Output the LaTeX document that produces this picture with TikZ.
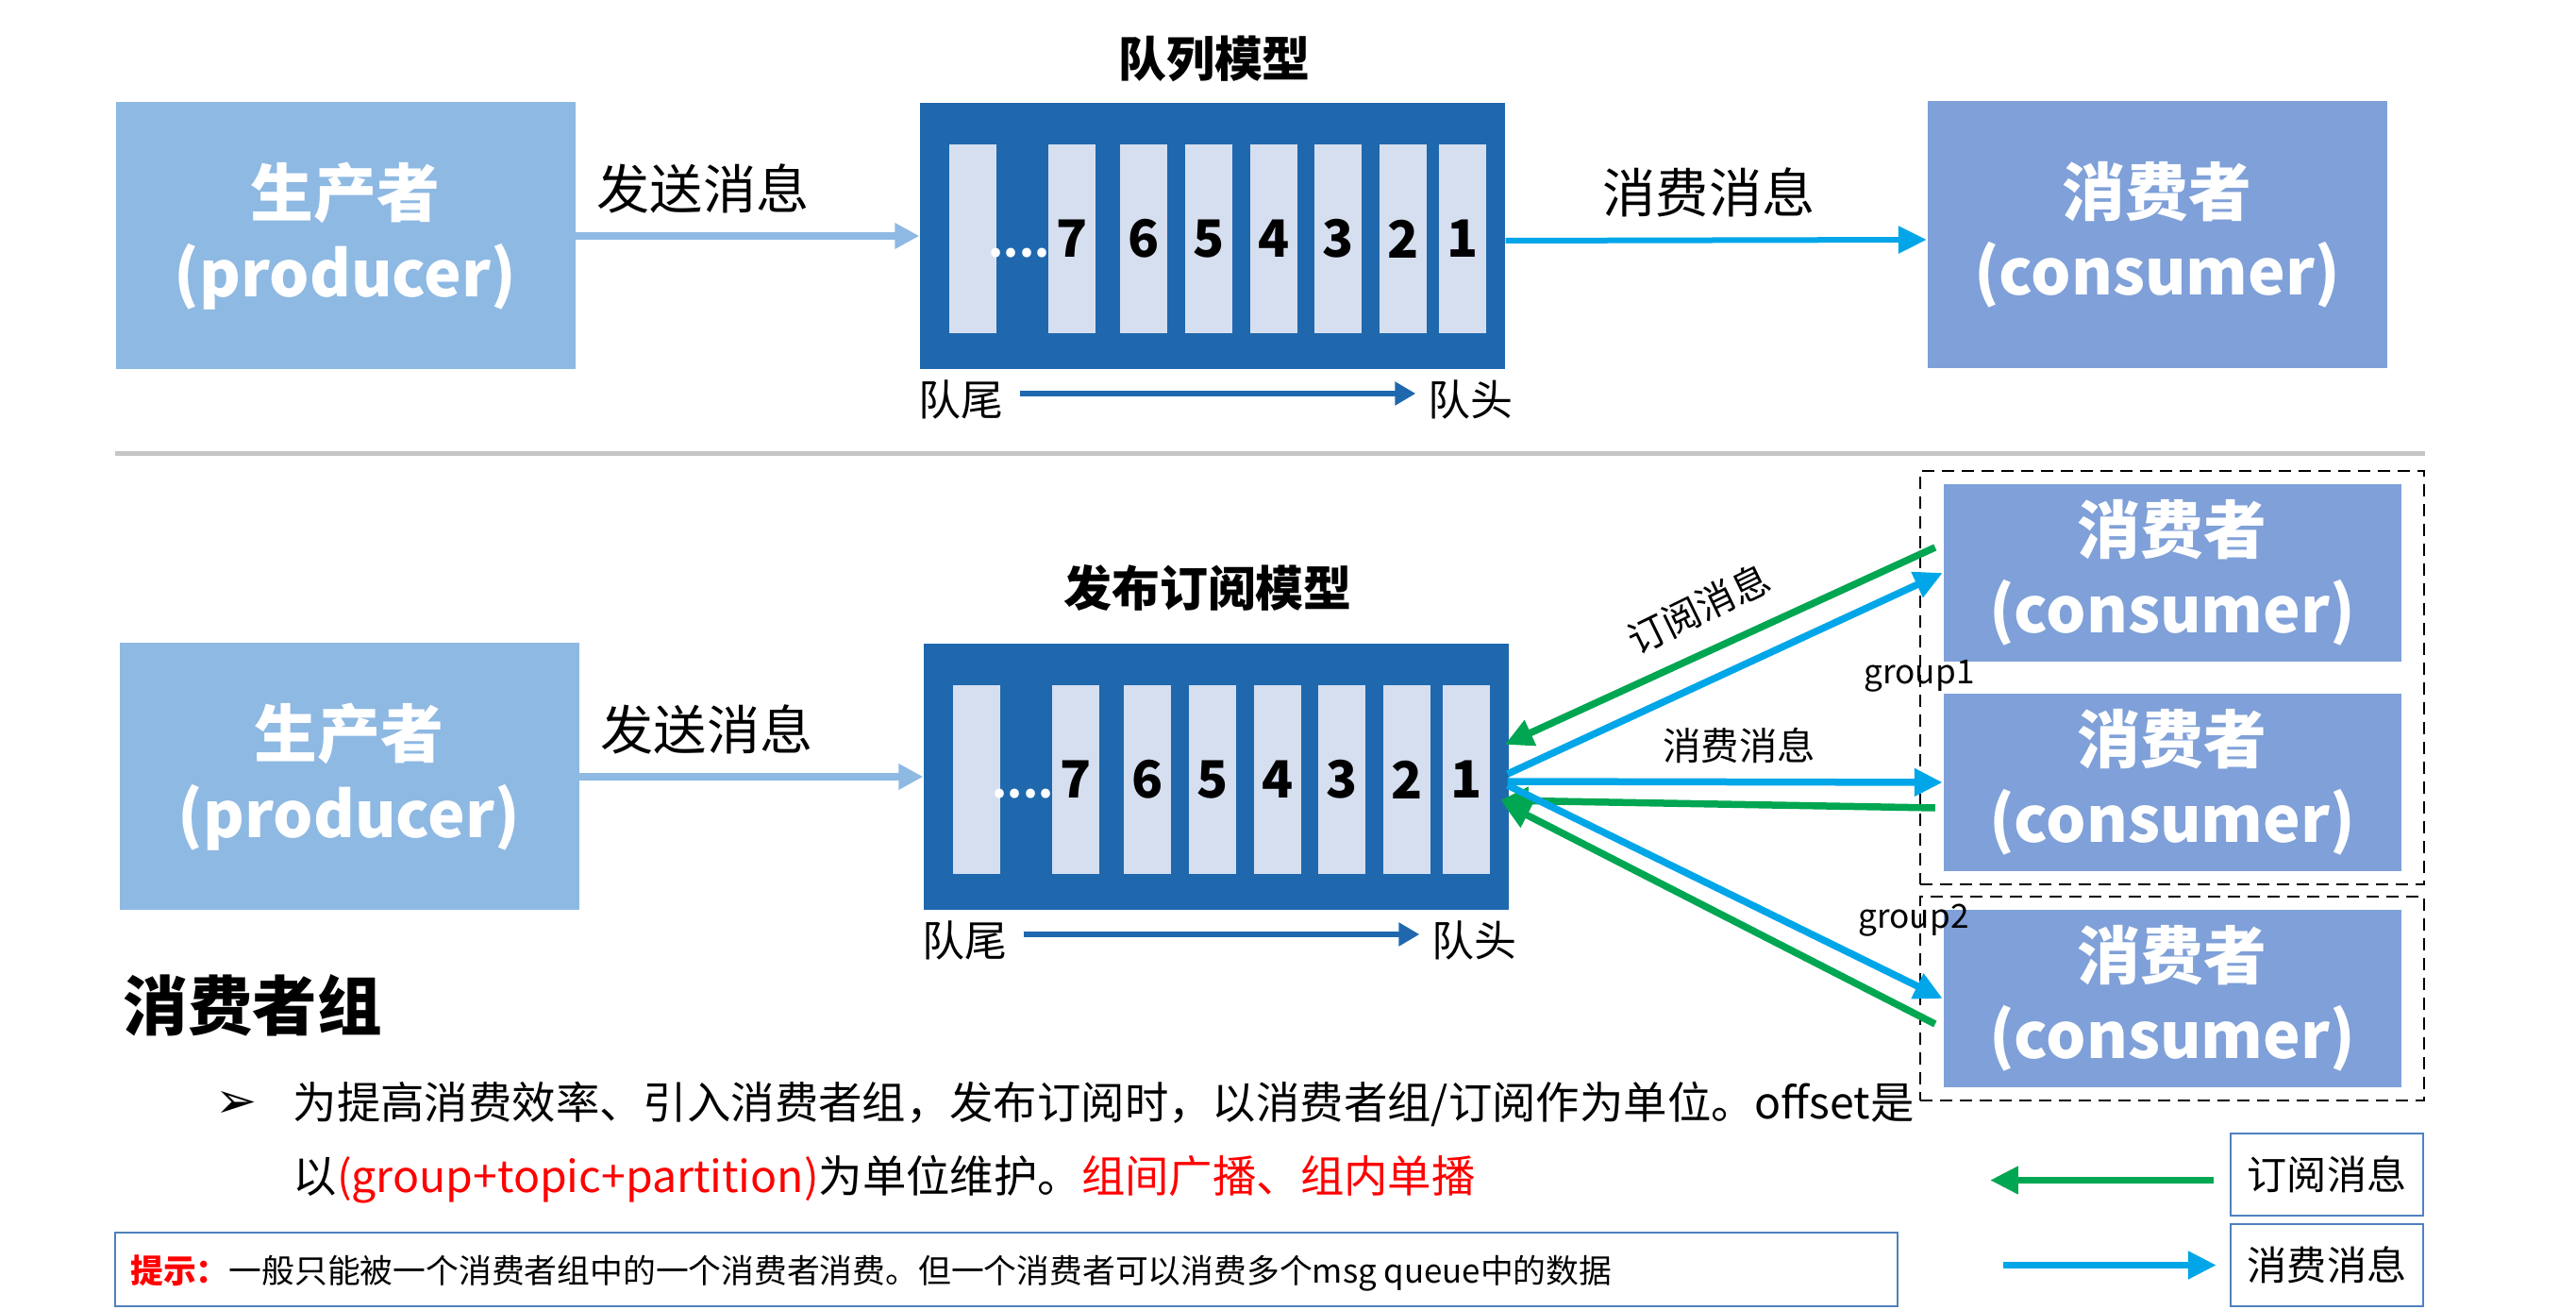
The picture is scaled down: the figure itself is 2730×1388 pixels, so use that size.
\documentclass[tikz,border=0pt]{standalone}
\usepackage{fontspec}
\setmainfont{Noto Sans CJK SC}
\newfontfamily\symfont{DejaVu Sans}
\usetikzlibrary{arrows.meta, positioning, fit, calc}
\definecolor{ProdBlue}{RGB}{142,185,227}
\definecolor{ConsBlue}{RGB}{127,160,216}
\definecolor{QueueBlue}{RGB}{31,104,174}
\definecolor{SlotGray}{RGB}{214,223,240}
\definecolor{SubGreen}{RGB}{0,166,81}
\definecolor{MsgCyan}{RGB}{0,166,232}
\definecolor{FrameBlue}{RGB}{79,129,189}

\begin{document}
\begin{tikzpicture}[x=0.1mm, y=-0.1mm,
	box/.style={rectangle, minimum width=48.7mm, minimum height=28.3mm, inner sep=0pt, align=center, text=white, font=\fontsize{19pt}{24pt}\selectfont\bfseries},
	prod/.style={box, fill=ProdBlue},
	cons/.style={box, fill=ConsBlue},
	queue/.style={rectangle, fill=QueueBlue, minimum width=62mm, minimum height=28.2mm, inner sep=0pt},
	slot/.style={rectangle, fill=SlotGray, minimum width=4.95mm, minimum height=20mm, inner sep=0pt, font=\fontsize{15.5pt}{18pt}\selectfont\bfseries},
	lbl/.style={font=\fontsize{16pt}{19pt}\selectfont, inner sep=0pt},
	qlbl/.style={font=\fontsize{12.8pt}{15pt}\selectfont, inner sep=0pt},
	small/.style={font=\fontsize{11.5pt}{14pt}\selectfont, inner sep=0pt},
	title/.style={font=\fontsize{14.5pt}{17pt}\selectfont\bfseries, inner sep=0pt},
	note/.style={font=\fontsize{13.2pt}{15pt}\selectfont, inner sep=0pt, anchor=west},
	sendarr/.style={-{Triangle[length=2.6mm, width=2.6mm]}, ProdBlue, line width=0.8mm},
	tailarr/.style={-{Triangle[length=2.2mm, width=2.4mm]}, QueueBlue, line width=0.6mm},
	subarr/.style={-{Triangle[length=3mm, width=2.8mm]}, SubGreen, line width=0.75mm},
	msgarr/.style={-{Triangle[length=3mm, width=2.8mm]}, MsgCyan, line width=0.75mm},
	legend/.style={draw=FrameBlue, line width=0.6pt, minimum width=20.4mm, minimum height=8.7mm, inner sep=0pt, font=\fontsize{12pt}{14pt}\selectfont},
	group/.style={draw, dash pattern=on 1.3mm off 0.8mm, line width=0.5pt, inner xsep=2.4mm, inner ysep=1.3mm}]
\useasboundingbox (0,0) rectangle (2730,1388);
% titles
\node[title] (T1) at (1287,62) {队列模型};
\node[title] (T2) at (1280,623) {发布订阅模型};
% producer + queue, both rows
\foreach \r/\dx/\dy in {t/0/0,b/4/573}{
	\node[prod] (P\r) at (366+\dx,250+\dy) {生产者\\(producer)};
	\node[queue] (Q\r) at (1285+\dx,250+\dy) {};
	\node[slot] (S\r0) at (1031+\dx,253+\dy) {};
	\foreach \i/\x in {7/1136,6/1212,5/1281,4/1350,3/1418,2/1487,1/1550}
		\node[slot] (S\r\i) at (\x+\dx,253+\dy) {\i};
	\node[text=white, font=\fontsize{13pt}{13pt}\selectfont\bfseries, inner sep=0pt, anchor=base] (D\r) at (1080+\dx,273+\dy) {....};
	\node[qlbl] (tail\r) at (1018+\dx,423+\dy) {队尾};
	\node[qlbl] (head\r) at (1558+\dx,423+\dy) {队头};
	\draw[tailarr] ([xshift=1.7mm,yshift=0.6mm]tail\r.east) -- ([xshift=-1.2mm,yshift=0.6mm]head\r.west);
	\draw[sendarr] (P\r.east) -- (Q\r.west);
	\node[lbl] (send\r) at (745+\dx,200+\dy) {发送消息};
}
% queue model consumer
\node[cons] (C0) at (2286,249) {消费者\\(consumer)};
\draw[msgarr, line width=0.6mm] ([yshift=-0.5mm]Qt.east) -- ([yshift=-0.5mm]C0.west);
\node[lbl] (consume) at (1811,204) {消费消息};
\draw[gray!45, line width=0.5mm] (122,481) -- (2570,481);
% consumer groups
\node[cons, minimum width=48.5mm, minimum height=18.8mm] (C1) at (2302,607) {消费者\\(consumer)};
\node[cons, minimum width=48.5mm, minimum height=18.8mm] (C2) at (2302,829) {消费者\\(consumer)};
\node[cons, minimum width=48.5mm, minimum height=18.8mm] (C3) at (2302,1058) {消费者\\(consumer)};
\node[group, fit=(C1)(C2)] (G1) {};
\node[group, fit=(C3)] (G2) {};
\node[font=\fontsize{10pt}{12pt}\selectfont, inner sep=0pt] (g1) at (2034,716) {group1};
\node[font=\fontsize{10pt}{12pt}\selectfont, inner sep=0pt] (g2) at (2028,975) {group2};
% subscribe / consume
\draw[subarr] ([shift={(-8,-27)}]C1.west) -- ([shift={(-5,-34)}]Qb.east);
\draw[msgarr] ([shift={(-2,-3)}]Qb.east) -- (C1.west);
\draw[msgarr] ([shift={(-2,5)}]Qb.east) -- (C2.west);
\draw[subarr] ([shift={(-8,27)}]C2.west) -- ([shift={(-10,25)}]Qb.east);
\draw[msgarr] ([shift={(-2,9)}]Qb.east) -- (C3.west);
\draw[subarr] ([shift={(-8,27)}]C3.west) -- ([shift={(-8,27)}]Qb.east);
\node[small, rotate=26] (sublbl) at (1800,645) {订阅消息};
\node[small] (msglbl) at (1843,790) {消费消息};
% notes
\node[font=\fontsize{19.5pt}{22pt}\selectfont\bfseries, inner sep=0pt, anchor=west] (grp) at (130,1065) {消费者组};
\node[font=\symfont\fontsize{15pt}{16pt}\selectfont, inner sep=0pt] (bul) at (251,1170) {➢};
\node[note] (line1) at (310,1170) {为提高消费效率、引入消费者组，发布订阅时，以消费者组/订阅作为单位。offset是};
\node[note] (line2) at (310,1250) {以\textcolor{red}{(group+topic+partition)}为单位维护。\textcolor{red}{组间广播、组内单播}};
\node[draw=FrameBlue, line width=0.8pt, minimum width=188.9mm, minimum height=7.8mm, inner sep=0pt] (hintbox) at (1066.5,1345) {};
\node[font=\fontsize{9.9pt}{12pt}\selectfont, inner sep=0pt, anchor=west] (hint) at ([xshift=1.7mm,yshift=-0.4mm]hintbox.west) {\textcolor{red}{\bfseries 提示：}一般只能被一个消费者组中的一个消费者消费。但一个消费者可以消费多个msg queue中的数据};
% legend
\node[legend] (L1) at (2466,1244.5) {订阅消息};
\node[legend] (L2) at (2466,1340.5) {消费消息};
\draw[subarr] ([shift={(-17,6)}]L1.west) -- ([shift={(-254,6)}]L1.west);
\draw[msgarr] ([xshift=-24mm]L2.west) -- ([xshift=-1.4mm]L2.west);
\end{tikzpicture}
\end{document}
